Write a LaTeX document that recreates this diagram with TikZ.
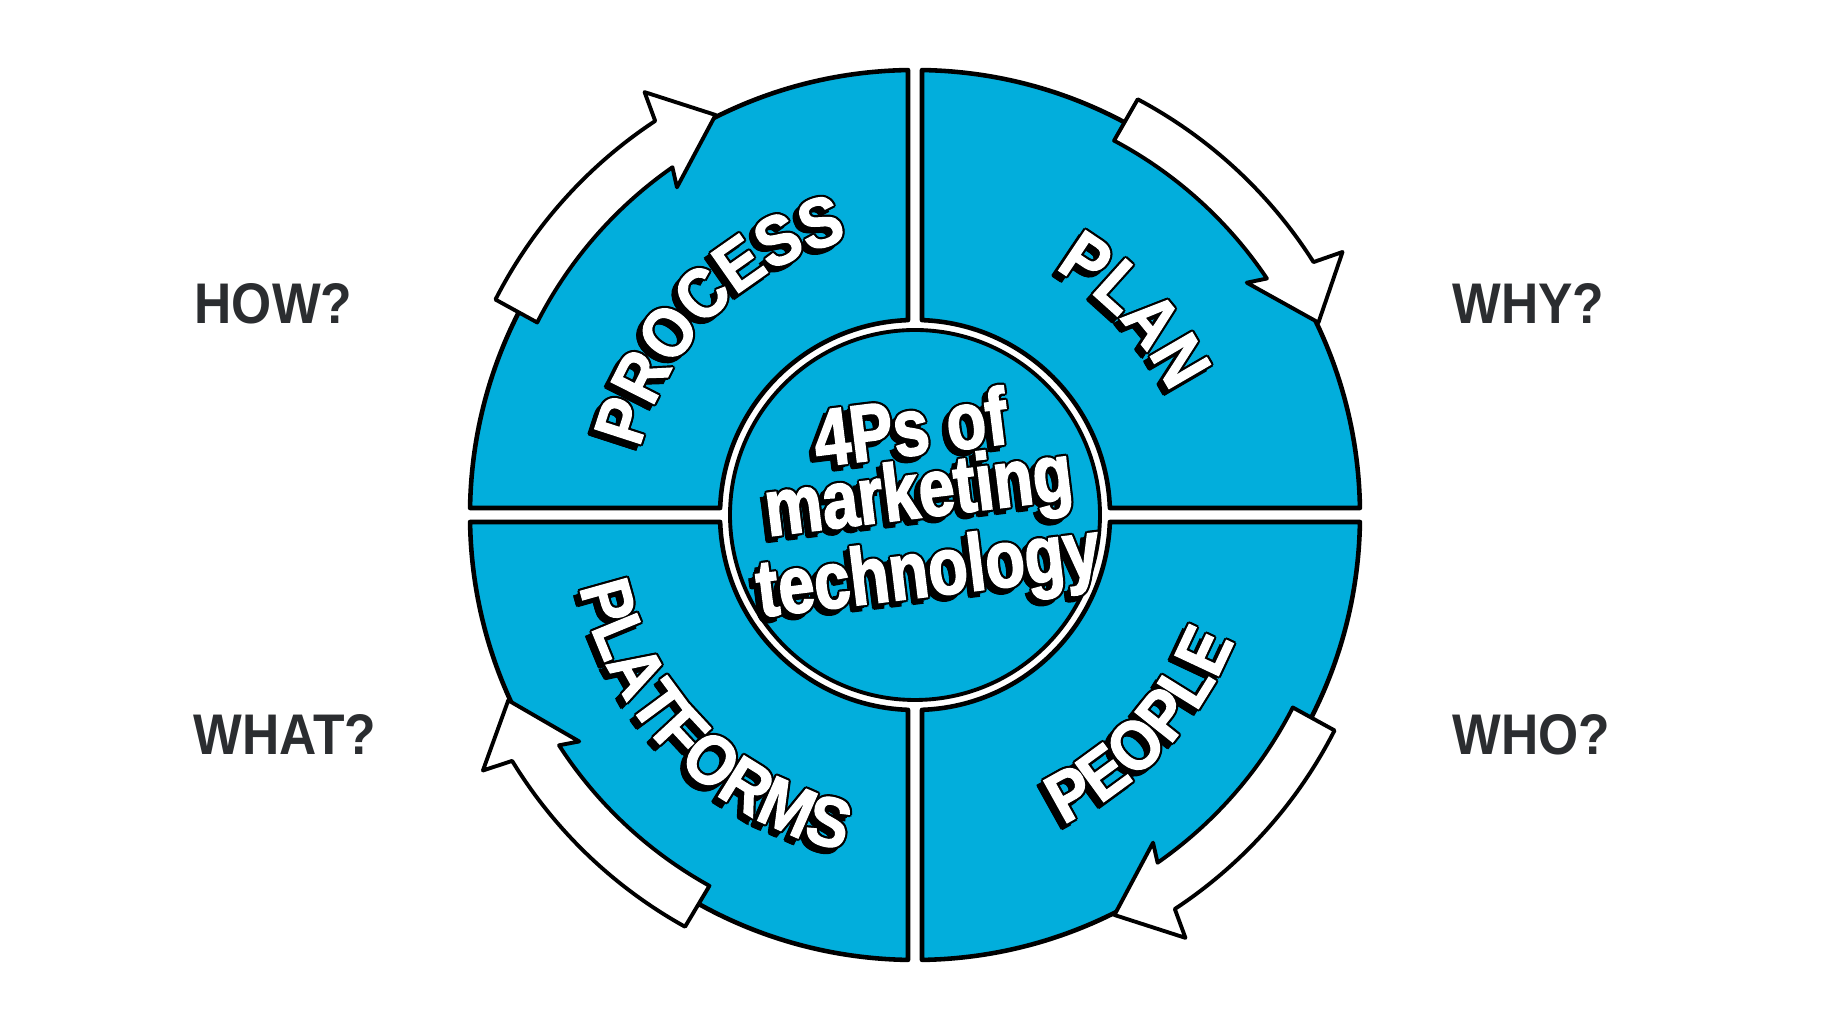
\documentclass[tikz,border=0pt]{standalone}
\usepackage{fontspec}
\setmainfont{Liberation Sans}
\newfontfamily\qfont[FakeStretch=0.9, FakeBold=1.5]{Liberation Sans}
\newfontfamily\ctrfont[FakeStretch=0.8, FakeBold=2]{Liberation Sans}
\newfontfamily\askfont[FakeStretch=0.9]{Liberation Sans}
\usepackage{tikz}
\usetikzlibrary{decorations.text}
\definecolor{wheelblue}{HTML}{02AEDC}
\definecolor{inkgray}{HTML}{2B2D30}

\tikzset{
  quad/.style={fill=wheelblue, draw=black, line width=1.3pt, line join=round},
  turn/.style={fill=white, draw=black, line width=1.1pt, line join=round},
  ask/.style={font=\askfont\bfseries\fontsize{16.3}{18}\selectfont, text=inkgray, anchor=base west, inner sep=0pt},
  title/.style={font=\ctrfont\bfseries\fontsize{23}{15.6}\selectfont, align=center, inner sep=0pt, rotate=7},
}

\newcommand{\lblfont}{\qfont\bfseries\fontsize{20}{20}\selectfont}
% offsets for the black rim and the drop shadow
\newcommand{\rimlist}{.022/0,-.022/0,0/.022,0/-.022,.016/.016,-.016/.016,.016/-.016,-.016/-.016,-.015/-.015,-.03/-.03,-.045/-.045,-.065/-.045,-.045/-.065,-.06/-.06}

\newcommand{\arcword}[4]{% start angle, end angle, radius, word
  \foreach \dx/\dy in \rimlist
    \path[shift={(\dx,\dy)}, decorate, decoration={text along path, text align=center, text color=black, text={|\lblfont|#4}}]
      (#1:#3) arc[start angle=#1, end angle=#2, radius=#3];
  \path[decorate, decoration={text along path, text align=center, text color=white, text={|\lblfont|#4}}]
    (#1:#3) arc[start angle=#1, end angle=#2, radius=#3];
}

\begin{document}
\begin{tikzpicture}
  \fill[white] (0,0) rectangle (18.32,10.31);
  \useasboundingbox (0,0) rectangle (18.32,10.31);

  \begin{scope}[shift={(9.15,5.16)}]
    % four quarters of the wheel
    \foreach \r in {0,90,180,270}
      \draw[quad, rotate=\r] (90.9:4.45) arc[start angle=90.9, end angle=179.1, radius=4.45]
        -- (177.94:1.95) arc[start angle=177.94, end angle=92.06, radius=1.95] -- cycle;
    \draw[fill=wheelblue, line width=1.1pt] (0,0) circle[radius=1.85];

    % curved arrows, clockwise
    \foreach \t/\p in {153/116.5, 62/25.5, -27/-63.5, 241/204.5} {
      \pgfmathsetmacro{\hi}{\p+8.4}
      \pgfmathsetmacro{\ho}{\p+6.9}
      \pgfmathsetmacro{\bi}{\p+9.5}
      \pgfmathsetmacro{\bo}{\p+6.1}
      \draw[turn] (\t:4.24) arc[start angle=\t, end angle=\hi, radius=4.24] -- (\bi:4.05)
        -- (\p:4.47) -- (\bo:5.02) -- (\ho:4.72) arc[start angle=\ho, end angle=\t, radius=4.69] -- cycle;
    }

    \arcword{185}{85}{2.83}{PROCESS}
    \arcword{93}{-7}{2.83}{PLAN}
    \arcword{-93}{7}{3.43}{PEOPLE}
    \arcword{175}{275}{3.43}{PLATFORMS}

    \coordinate (ttl) at (0.05,0.1);
    \foreach \dx/\dy [count=\k] in \rimlist
      \node[shift={(\dx,\dy)}, title, text=black] (tsh\k) at (ttl) {4Ps of\\marketing\\technology};
    \node[title, text=white] (title) at (ttl) {4Ps of\\marketing\\technology};
  \end{scope}

  \node[ask] (how) at (1.94,7.07) {HOW?};
  \node[ask] (why) at (14.52,7.07) {WHY?};
  \node[ask] (what) at (1.93,2.76) {WHAT?};
  \node[ask] (who) at (14.52,2.76) {WHO?};
\end{tikzpicture}
\end{document}
